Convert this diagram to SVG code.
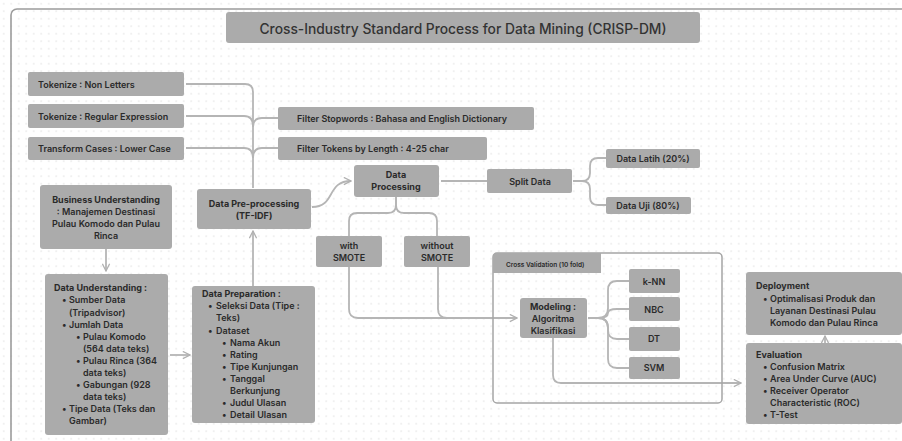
<svg xmlns="http://www.w3.org/2000/svg" width="902" height="441" viewBox="0 0 902 441">
<defs>
<pattern id="dots" width="7.5" height="7.5" patternUnits="userSpaceOnUse">
<circle cx="3.75" cy="3.75" r="0.65" fill="#d6d6d6"/>
</pattern>
<marker id="arr" viewBox="0 0 10 10" refX="9" refY="5" markerWidth="9" markerHeight="9" markerUnits="userSpaceOnUse" orient="auto">
<path d="M1,1 L9,5 L1,9" fill="none" stroke="#b0b0b0" stroke-width="1.4"/>
</marker>
<style>
.box{fill:#ababab;}
.t{font-family:Inter,"Noto Sans","Liberation Sans",sans-serif;font-size:9px;font-weight:600;fill:#2a2a2a;}
.b{font-weight:700;}
.m{text-anchor:middle;}
.c{fill:none;stroke:#b5b5b5;stroke-width:1.8;}
</style>
</defs>
<rect x="0" y="0" width="902" height="441" fill="#ffffff"/>
<rect x="0" y="0" width="902" height="441" fill="url(#dots)"/>
<rect x="11" y="9" width="910" height="450" rx="6" fill="none" stroke="#9c9c9c" stroke-width="1.6"/>

<g id="connectors">
<path class="c" d="M186,84 H245 Q253,84 253,92 V188"/>
<path class="c" d="M186,116 H244 Q253,116 253,126"/>
<path class="c" d="M278,118 H262 Q253,118 253,127"/>
<path class="c" d="M186,148 H244 Q253,148 253,158"/>
<path class="c" d="M278,148 H262 Q253,148 253,158"/>
<path class="c" d="M253,286 V231" marker-end="url(#arr)"/>
<path class="c" d="M312,207 C336,207 326,181 351,181" marker-end="url(#arr)"/>
<path class="c" d="M106,249 V271" marker-end="url(#arr)"/>
<path class="c" d="M170,355 H190" marker-end="url(#arr)"/>
<path class="c" d="M441,181 H487"/>
<path class="c" d="M573,181 H582 Q590,181 590,173 V166 Q590,158 598,158 H606"/>
<path class="c" d="M573,181 H582 Q590,181 590,189 V197 Q590,205 598,205 H606"/>
<path class="c" d="M396,197 V205 Q396,213 388,213 H357 Q349,213 349,221 V236"/>
<path class="c" d="M396,197 V205 Q396,213 404,213 H429 Q437,213 437,221 V236"/>
<path class="c" d="M349,267 V309 Q349,318 358,318 H517" marker-end="url(#arr)"/>
<path class="c" d="M438,267 V309 Q438,318 447,318"/>
<path class="c" d="M588,318 H598 Q608,318 608,308 V290 Q608,281 617,281 H629"/>
<path class="c" d="M588,318 H598 Q608,318 608,313 Q608,309 617,309 H629"/>
<path class="c" d="M588,318 H598 Q608,318 608,328 V330 Q608,339 617,339 H629"/>
<path class="c" d="M588,318 H598 Q608,318 608,328 V359 Q608,368 617,368 H629"/>
<path class="c" d="M553,338 V375 Q553,383 561,383 H741" marker-end="url(#arr)"/>
<path class="c" d="M825,343 V336" marker-end="url(#arr)"/>
</g>

<g id="title">
<rect class="box" x="226" y="12" width="474" height="31" rx="3"/>
<text class="t m" x="463" y="33.5" style="font-size:13.8px;font-weight:500;fill:#333">Cross-Industry Standard Process for Data Mining (CRISP-DM)</text>
</g>

<g id="tok-nonletters">
<rect class="box" x="28" y="72" width="156" height="24" rx="2"/>
<text class="t" x="38" y="87.5">Tokenize : Non Letters</text>
</g>
<g id="tok-regex">
<rect class="box" x="28" y="104" width="156" height="24" rx="2"/>
<text class="t" x="38" y="119.5">Tokenize : Regular Expression</text>
</g>
<g id="transform-cases">
<rect class="box" x="28" y="137" width="156" height="23" rx="2"/>
<text class="t" x="38" y="152">Transform Cases : Lower Case</text>
</g>
<g id="filter-stopwords">
<rect class="box" x="278" y="107" width="256" height="23" rx="2"/>
<text class="t" x="297" y="122">Filter Stopwords : Bahasa and English Dictionary</text>
</g>
<g id="filter-tokens">
<rect class="box" x="278" y="137" width="209" height="23" rx="2"/>
<text class="t" x="297" y="152">Filter Tokens by Length : 4-25 char</text>
</g>

<g id="business-understanding">
<rect class="box" x="40" y="185" width="132" height="64" rx="3"/>
<text class="t m b" x="106" y="203">Business Understanding</text>
<text class="t m" x="106" y="215">: Manajemen Destinasi</text>
<text class="t m" x="106" y="227">Pulau Komodo dan Pulau</text>
<text class="t m" x="106" y="239">Rinca</text>
</g>

<g id="data-preprocessing">
<rect class="box" x="197" y="189" width="114" height="40" rx="3"/>
<text class="t m b" x="254" y="207">Data Pre-processing</text>
<text class="t m b" x="254" y="219">(TF-IDF)</text>
</g>

<g id="data-understanding">
<rect class="box" x="45" y="274" width="123" height="161" rx="3"/>
<text class="t b" x="54" y="291">Data Understanding :</text>
<text class="t" x="62" y="303">•</text><text class="t" x="69" y="303">Sumber Data</text>
<text class="t" x="69" y="316">(Tripadvisor)</text>
<text class="t" x="62" y="328">•</text><text class="t" x="69" y="328">Jumlah Data</text>
<text class="t" x="76" y="340">•</text><text class="t" x="83" y="340">Pulau Komodo</text>
<text class="t" x="83" y="352">(564 data teks)</text>
<text class="t" x="76" y="364">•</text><text class="t" x="83" y="364">Pulau Rinca (364</text>
<text class="t" x="83" y="376">data teks)</text>
<text class="t" x="76" y="388">•</text><text class="t" x="83" y="388">Gabungan (928</text>
<text class="t" x="83" y="400">data teks)</text>
<text class="t" x="62" y="412">•</text><text class="t" x="69" y="412">Tipe Data (Teks dan</text>
<text class="t" x="69" y="424">Gambar)</text>
</g>

<g id="data-preparation">
<rect class="box" x="192" y="286" width="123" height="137" rx="3"/>
<text class="t b" x="202" y="297">Data Preparation :</text>
<text class="t" x="208" y="309">•</text><text class="t" x="216" y="309">Seleksi Data (Tipe :</text>
<text class="t" x="216" y="321">Teks)</text>
<text class="t" x="208" y="334">•</text><text class="t" x="216" y="334">Dataset</text>
<text class="t" x="222" y="346">•</text><text class="t" x="230" y="346">Nama Akun</text>
<text class="t" x="222" y="358">•</text><text class="t" x="230" y="358">Rating</text>
<text class="t" x="222" y="370">•</text><text class="t" x="230" y="370">Tipe Kunjungan</text>
<text class="t" x="222" y="382">•</text><text class="t" x="230" y="382">Tanggal</text>
<text class="t" x="230" y="394">Berkunjung</text>
<text class="t" x="222" y="406">•</text><text class="t" x="230" y="406">Judul Ulasan</text>
<text class="t" x="222" y="418">•</text><text class="t" x="230" y="418">Detail Ulasan</text>
</g>

<g id="data-processing">
<rect class="box" x="354" y="165" width="85" height="32" rx="3"/>
<text class="t m b" x="396" y="178">Data</text>
<text class="t m b" x="396" y="190">Processing</text>
</g>

<g id="split-data">
<rect class="box" x="487" y="169" width="85" height="24" rx="2"/>
<text class="t m" x="530" y="184.5">Split Data</text>
</g>
<g id="data-latih">
<rect class="box" x="606" y="149" width="94" height="19" rx="2"/>
<text class="t m" x="653" y="161.5">Data Latih (20%)</text>
</g>
<g id="data-uji">
<rect class="box" x="606" y="197" width="85" height="17" rx="2"/>
<text class="t m" x="648" y="208.5">Data Uji (80%)</text>
</g>

<g id="with-smote">
<rect class="box" x="316" y="236" width="66" height="31" rx="2"/>
<text class="t m" x="349" y="249">with</text>
<text class="t m" x="349" y="261">SMOTE</text>
</g>
<g id="without-smote">
<rect class="box" x="404" y="236" width="66" height="31" rx="2"/>
<text class="t m" x="437" y="249">without</text>
<text class="t m" x="437" y="261">SMOTE</text>
</g>

<g id="cross-validation">
<rect x="493" y="253" width="229" height="150" rx="4" fill="none" stroke="#a5a5a5" stroke-width="1.5"/>
<path d="M493,273 V257 Q493,253 497,253 H601 V273 Z" fill="#ababab"/>
<text class="t" x="506" y="267" style="font-size:6.5px">Cross Validation (10 fold)</text>
</g>

<g id="modeling">
<rect class="box" x="520" y="298" width="67" height="40" rx="3"/>
<text class="t m b" x="553" y="309.5">Modeling :</text>
<text class="t m" x="553" y="322">Algoritma</text>
<text class="t m" x="553" y="333.5">Klasifikasi</text>
</g>

<g id="knn">
<rect class="box" x="629" y="269" width="51" height="24" rx="2"/>
<text class="t m" x="654" y="284.5">k-NN</text>
</g>
<g id="nbc">
<rect class="box" x="629" y="297" width="51" height="24" rx="2"/>
<text class="t m" x="654" y="312.5">NBC</text>
</g>
<g id="dt">
<rect class="box" x="629" y="327" width="51" height="24" rx="2"/>
<text class="t m" x="654" y="342">DT</text>
</g>
<g id="svm">
<rect class="box" x="629" y="357" width="51" height="22" rx="2"/>
<text class="t m" x="654" y="371">SVM</text>
</g>

<g id="deployment">
<rect class="box" x="746" y="272" width="156" height="63" rx="3"/>
<text class="t b" x="756" y="289">Deployment</text>
<text class="t" x="763" y="301.5">•</text><text class="t" x="770" y="301.5">Optimalisasi Produk dan</text>
<text class="t" x="770" y="314">Layanan Destinasi Pulau</text>
<text class="t" x="770" y="325.5">Komodo dan Pulau Rinca</text>
</g>

<g id="evaluation">
<rect class="box" x="746" y="343" width="156" height="81" rx="3"/>
<text class="t b" x="756" y="357.5">Evaluation</text>
<text class="t" x="763" y="370">•</text><text class="t" x="770" y="370">Confusion Matrix</text>
<text class="t" x="763" y="381.5">•</text><text class="t" x="770" y="381.5">Area Under Curve (AUC)</text>
<text class="t" x="763" y="393.5">•</text><text class="t" x="770" y="393.5">Receiver Operator</text>
<text class="t" x="770" y="405.5">Characteristic (ROC)</text>
<text class="t" x="763" y="417.5">•</text><text class="t" x="770" y="417.5">T-Test</text>
</g>
</svg>
